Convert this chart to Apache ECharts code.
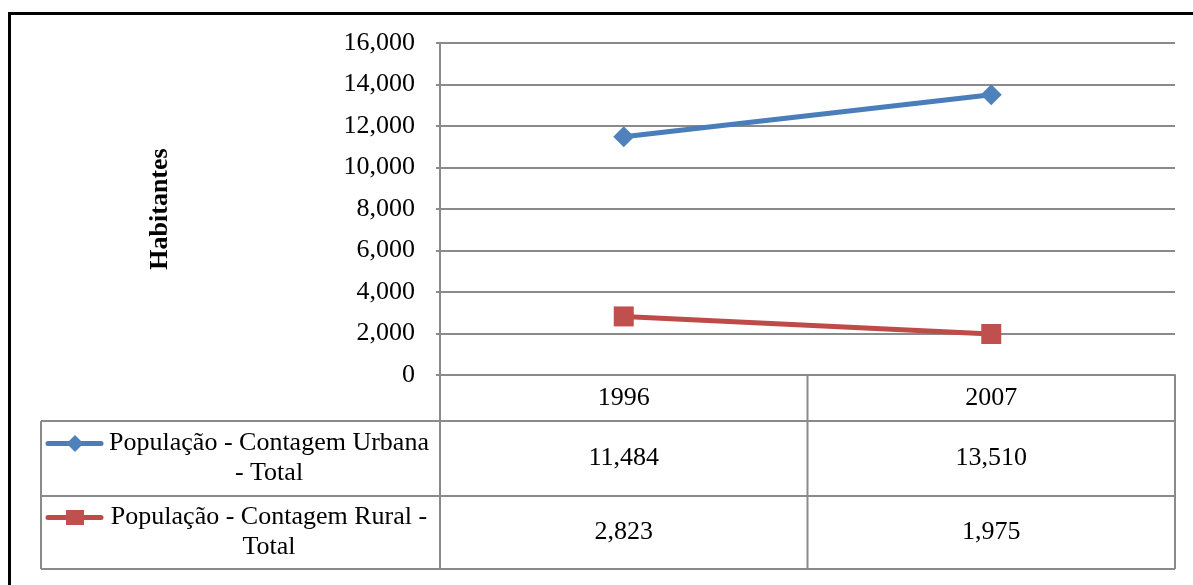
<!DOCTYPE html>
<html>
<head>
<meta charset="utf-8">
<script src="https://cdn.jsdelivr.net/npm/echarts@6/dist/echarts.min.js"></script>
<style>
html,body{margin:0;padding:0;background:#fff;}
#chart{width:1193px;height:585px;}
</style>
</head>
<body>
<div id="chart"></div>
<script>
// ---- data ----
const years = ['1996', '2007'];
const urbana = [11484, 13510];
const rural = [2823, 1975];
const seriesNames = ['População - Contagem Urbana - Total', 'População - Contagem Rural - Total'];
const legendLines = ['População - Contagem Urbana\n- Total', 'População - Contagem Rural -\nTotal'];
const yMin = 0, yMax = 16000, yStep = 2000;
const yTitle = 'Habitantes';

const FONT = '"Liberation Serif", "Times New Roman", serif';
const GRAY = '#8a8a8a';
const BLUE_LINE = '#4A7EBB', BLUE_FILL = '#4F81BD';
const RED_LINE = '#BE4B48', RED_FILL = '#C0504D';

const fmt = v => Number(v).toLocaleString('en-US');

const chart = echarts.init(document.getElementById('chart'), null, {renderer: 'canvas'});

chart.setOption({
  animation: false,
  backgroundColor: '#fff',
  grid: {left: 440, right: 18, top: 43, bottom: 210, containLabel: false},
  xAxis: {
    type: 'category',
    data: years,
    boundaryGap: true,
    axisLine: {show: true, lineStyle: {color: GRAY, width: 2}},
    axisTick: {show: false},
    axisLabel: {show: false},
    splitLine: {show: false}
  },
  yAxis: {
    type: 'value',
    min: yMin, max: yMax, interval: yStep,
    name: yTitle,
    nameLocation: 'middle',
    nameGap: 267,
    nameRotate: 90,
    nameTextStyle: {fontFamily: FONT, fontSize: 26, fontWeight: 'bold', color: '#000'},
    axisLine: {show: true, lineStyle: {color: GRAY, width: 2}},
    axisTick: {show: true, length: 4, lineStyle: {color: GRAY, width: 2}},
    axisLabel: {fontFamily: FONT, fontSize: 26, color: '#000', margin: 25, formatter: fmt},
    splitLine: {show: true, lineStyle: {color: GRAY, width: 2}}
  },
  series: [
    {
      name: seriesNames[0], type: 'line', data: urbana,
      symbol: 'diamond', symbolSize: 21,
      lineStyle: {color: BLUE_LINE, width: 5},
      itemStyle: {color: BLUE_FILL}
    },
    {
      name: seriesNames[1], type: 'line', data: rural,
      symbol: 'rect', symbolSize: 20,
      lineStyle: {color: RED_LINE, width: 5},
      itemStyle: {color: RED_FILL}
    }
  ]
});

// ---- data table drawn below the plot, positioned from the axis scale ----
const colX = years.map(y => chart.convertToPixel({xAxisIndex: 0}, y));
const half = (colX[1] - colX[0]) / 2;
const xLeftPlot = colX[0] - half;
const xMid = (colX[0] + colX[1]) / 2;
const xRight = colX[1] + half;
const yTop = chart.convertToPixel({yAxisIndex: 0}, 0);
const rowH = [46, 75, 73];
const yRow1 = yTop + rowH[0];
const yRow2 = yRow1 + rowH[1];
const yBot = yRow2 + rowH[2];
const xTableLeft = 41;

const lineStyle = {stroke: GRAY, lineWidth: 2};
const g = [];
function hline(x1, x2, y) { g.push({type: 'line', shape: {x1, y1: y, x2, y2: y}, style: lineStyle, z: 10}); }
function vline(x, y1, y2) { g.push({type: 'line', shape: {x1: x, y1, x2: x, y2}, style: lineStyle, z: 10}); }
function txt(text, x, y, extra) {
  g.push({type: 'text', x, y, z: 11, style: Object.assign({
    text, fill: '#000', font: '26px ' + FONT, align: 'center', verticalAlign: 'middle'
  }, extra || {})});
}

// outer frame
g.push({type: 'rect', shape: {x: 9.5, y: 13.5, width: 1400, height: 1000}, style: {fill: null, stroke: '#000', lineWidth: 3}, z: 20});

// table lines
hline(xTableLeft, xRight, yRow1);
hline(xTableLeft, xRight, yRow2);
hline(xTableLeft, xRight, yBot);
vline(xLeftPlot, yTop, yBot);
vline(xMid, yTop, yBot);
vline(xRight, yTop, yBot);
vline(xTableLeft, yRow1, yBot);

// header
years.forEach((y, i) => txt(y, colX[i], yTop + rowH[0] / 2));

// rows
const rows = [
  {vals: urbana, color: BLUE_LINE, fill: BLUE_FILL, symbol: 'diamond', label: legendLines[0], y0: yRow1, h: rowH[1]},
  {vals: rural, color: RED_LINE, fill: RED_FILL, symbol: 'rect', label: legendLines[1], y0: yRow2, h: rowH[2]}
];
rows.forEach(r => {
  const cy = r.y0 + r.h / 2;
  r.vals.forEach((v, i) => txt(fmt(v), colX[i], cy));
  txt(r.label, 269, cy, {lineHeight: 30});
  const ly = cy - 15;
  g.push({type: 'line', shape: {x1: 48, y1: ly, x2: 101, y2: ly}, style: {stroke: r.color, lineWidth: 5, lineCap: 'round'}, z: 11});
  if (r.symbol === 'diamond') {
    g.push({type: 'polygon', shape: {points: [[75, ly - 8.5], [83.5, ly], [75, ly + 8.5], [66.5, ly]]}, style: {fill: r.fill}, z: 12});
  } else {
    g.push({type: 'rect', shape: {x: 66, y: ly - 7.5, width: 18, height: 15}, style: {fill: r.fill}, z: 12});
  }
});

chart.setOption({graphic: g});
</script>
</body>
</html>
